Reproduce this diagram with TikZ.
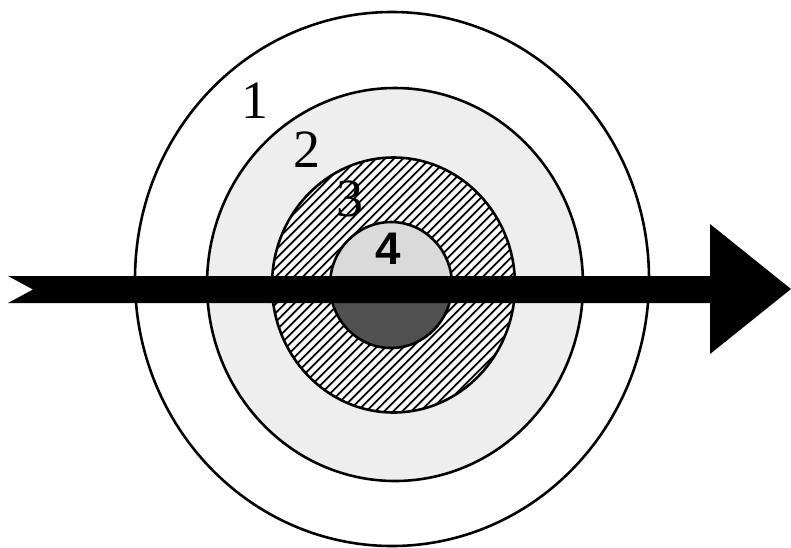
\documentclass[tikz,border=0pt]{standalone}
\usepackage{fontspec}
\setmainfont{Liberation Serif}
\newfontfamily\numsans{Liberation Sans}
\usepackage{tikz}
\usetikzlibrary{calc}
\definecolor{ringtwo}{RGB}{238,238,238}
\definecolor{ringfour}{RGB}{218,218,218}
\definecolor{ringfourdark}{RGB}{80,80,80}
\tikzset{ringline/.style={line width=2.2pt},
  ringlabel/.style={font=\fontsize{46}{46}\selectfont,inner sep=0pt}}
\newcommand{\hatchring}[4]{%
  \begin{scope}
    \clip (#1,#2) ellipse [x radius=#3,y radius=#4];
    \foreach \h in {-279,-270,...,279}
      \draw[line width=1.5pt] ({#1+\h-150},{#2+150}) -- ++(300,-300);
  \end{scope}%
}

\begin{document}
\begin{tikzpicture}[x=0.03cm,y=-0.03cm]
  \useasboundingbox (0,0) rectangle (791,547);
  % target rings
  \draw[ringline] (392,279) ellipse [x radius=257,y radius=267];
  \draw[ringline,fill=ringtwo] (395,284.5) ellipse [x radius=188,y radius=196.5];
  \fill[white] (393.5,285) ellipse [x radius=121.5,y radius=127.5];
  \hatchring{393.5}{285}{121.5}{127.5}
  \draw[ringline] (393.5,285) ellipse [x radius=121.5,y radius=127.5];
  \fill[ringfour] (391,285) ellipse [x radius=61,y radius=63];
  \begin{scope}
    \clip (391,285) ellipse [x radius=61,y radius=63];
    \fill[ringfourdark] (320,300) rectangle (460,350);
  \end{scope}
  \draw[ringline] (391,285) ellipse [x radius=61,y radius=63];
  % labels
  \node[ringlabel] (lab1) at (255,101) {1};
  \node[ringlabel] (lab2) at (307,150) {2};
  \node[ringlabel] (lab3) at (350,199) {3};
  \node[font=\numsans\bfseries\fontsize{39}{39}\selectfont,inner sep=0pt] (lab4) at (388,249) {4};
  % arrow
  \coordinate (tail) at (8,276);
  \coordinate (notch) at (33,289.5);
  \coordinate (tip) at (791,289);
  \fill (tail) -- (710,276) -- (710,224) -- (tip) -- (710,354) -- (710,303)
    -- (8,303) -- (notch) -- cycle;
\end{tikzpicture}
\end{document}
